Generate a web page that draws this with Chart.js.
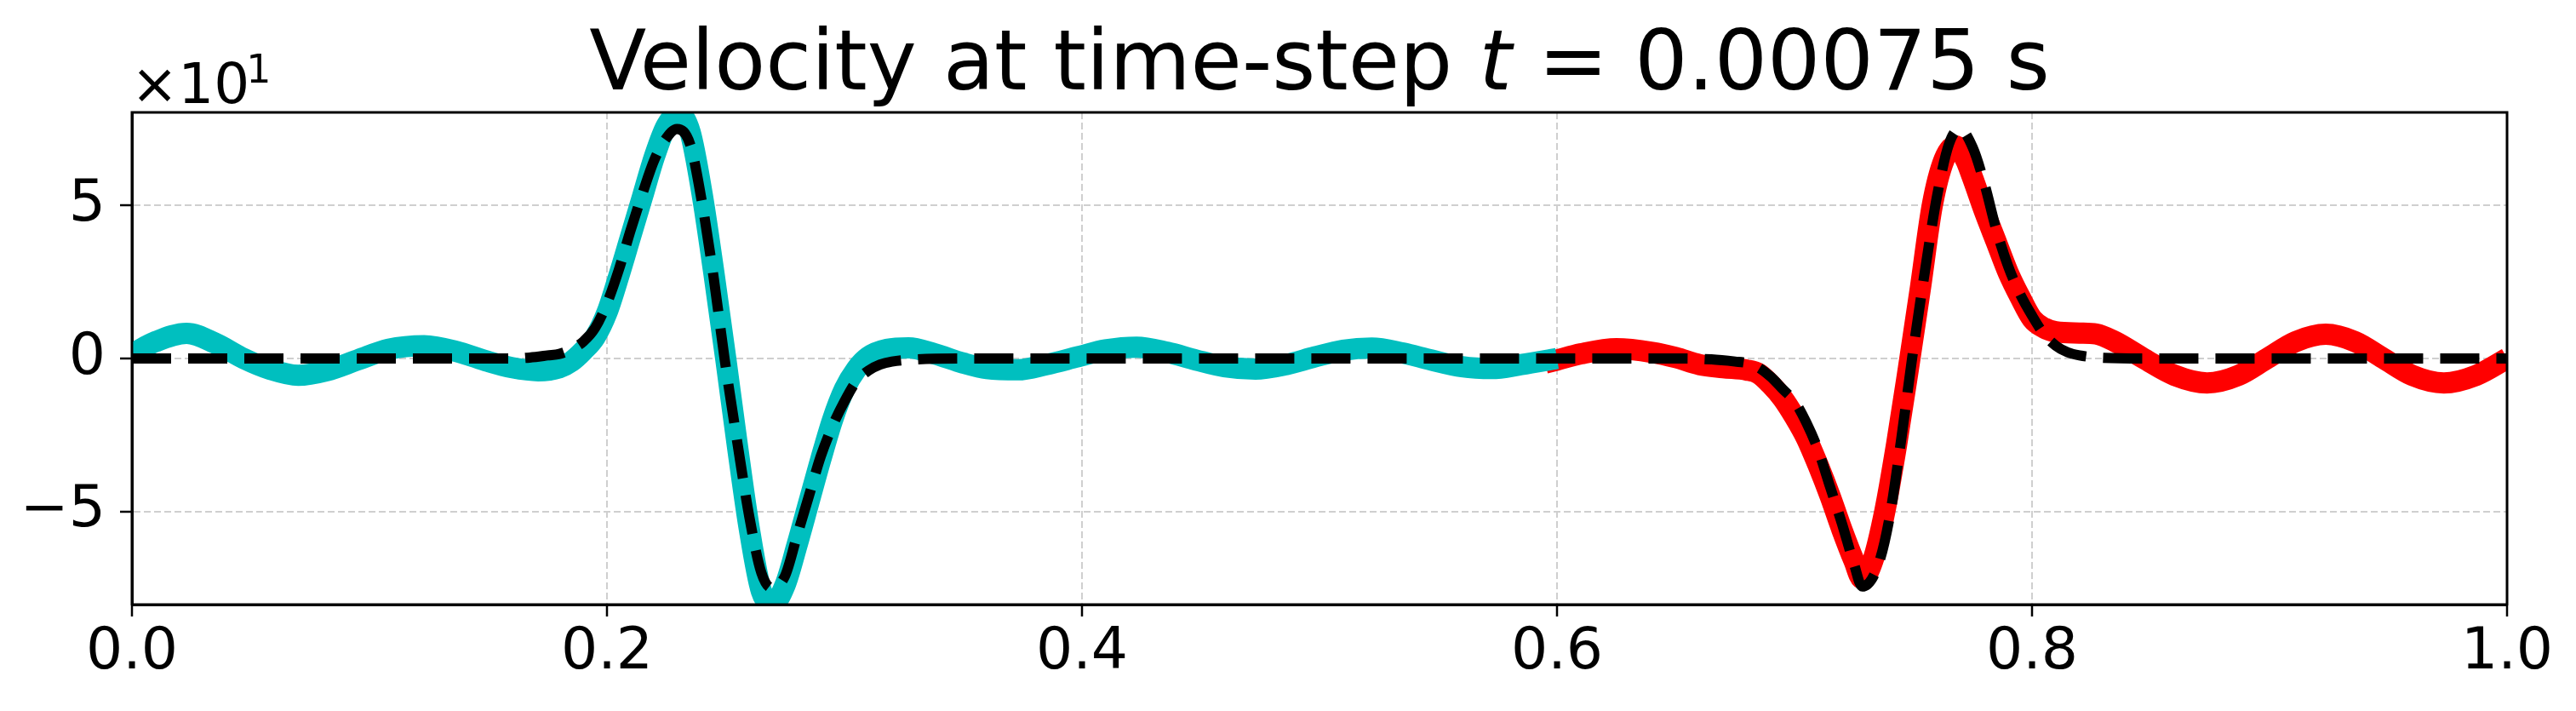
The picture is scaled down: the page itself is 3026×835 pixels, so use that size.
<!DOCTYPE html>
<html>
<head>
<meta charset="utf-8">
<title>Velocity at time-step t = 0.00075 s</title>
<script src="https://cdn.jsdelivr.net/npm/chart.js@4.4.1/dist/chart.umd.min.js"></script>
<style>
    html, body { margin: 0; padding: 0; background: #ffffff; }
    #wrap { position: relative; width: 3026px; height: 835px; }
</style>
</head>
<body>
<div id="wrap"><canvas id="velocityChart"></canvas></div>
<script>
'use strict';

// ── Data (velocity, real units; axis shows them x10^1) ───────────────────────
// numerical solution, left sub-domain (cyan)
var leftX = [0, 0.01, 0.023, 0.035, 0.047, 0.058, 0.07, 0.082, 0.095, 0.108, 0.123, 0.138,
    0.15, 0.16, 0.171, 0.18, 0.185, 0.19, 0.195, 0.2, 0.205, 0.21, 0.215, 0.22, 0.225, 0.23,
    0.235, 0.24, 0.245, 0.25, 0.255, 0.26, 0.265, 0.27, 0.275, 0.28, 0.285, 0.29, 0.295, 0.3,
    0.305, 0.31, 0.318, 0.327, 0.338, 0.35, 0.36, 0.373, 0.385, 0.398, 0.41, 0.423, 0.436,
    0.448, 0.46, 0.473, 0.486, 0.498, 0.51, 0.522, 0.535, 0.547, 0.56, 0.5725, 0.585, 0.6];
var leftY = [1.5, 5.5, 8.2, 5.0, 0, -3.5, -5.5, -4.0, -0.5, 3.0, 4.2, 2.0,
    -1.0, -3.0, -4.0, -3.0, -1.0, 2.5, 7, 15, 27, 40, 53, 66, 76, 80,
    74, 54, 28, 0, -29, -56, -76, -80, -74, -61, -47, -33, -20, -10,
    -3.5, 0.5, 3.0, 3.5, 1.5, -1.5, -3.3, -3.7, -2.0, 0.5, 2.8, 3.7, 2.0,
    -0.5, -2.7, -3.5, -2.0, 0.5, 2.7, 3.4, 1.8, -0.5, -2.7, -3.3, -2.0, 0.0];

// numerical solution, right sub-domain (red)
var rightX = [0.595, 0.6, 0.61, 0.625, 0.64, 0.65, 0.66, 0.67, 0.68, 0.685, 0.69, 0.695,
    0.7, 0.705, 0.71, 0.715, 0.72, 0.725, 0.7285, 0.733, 0.738, 0.743, 0.748, 0.753, 0.758,
    0.763, 0.7677, 0.772, 0.775, 0.78, 0.785, 0.79, 0.795, 0.8, 0.805, 0.81, 0.82, 0.827,
    0.835, 0.847, 0.86, 0.8737, 0.887, 0.899, 0.911, 0.9237, 0.936, 0.948, 0.96, 0.9734,
    0.987, 1.0];
var rightY = [-1.5, -0.5, 1.5, 3.2, 2.0, 0.3, -2.0, -3.0, -3.8, -5, -8.5, -13,
    -19, -26, -35, -45, -56, -66, -72, -66, -50, -28, -3, 23, 50,
    65, 69.5, 65, 59, 48, 38, 28, 20, 13, 10, 8.7, 8.3, 8.0,
    5.5, 0, -5.5, -8.0, -5.5, 0, 5.5, 7.9, 5.5, 0, -5.5, -8.0,
    -5.5, 0];

// exact solution (black dashed)
var exactX = [0, 0.1, 0.16, 0.17, 0.175, 0.18, 0.185, 0.19, 0.195, 0.2, 0.205, 0.21, 0.215,
    0.22, 0.225, 0.2295, 0.235, 0.24, 0.245, 0.2495, 0.255, 0.26, 0.265, 0.2695, 0.275, 0.28,
    0.285, 0.29, 0.295, 0.3, 0.305, 0.31, 0.315, 0.32, 0.33, 0.35, 0.65, 0.665, 0.675, 0.68,
    0.685, 0.69, 0.695, 0.7, 0.705, 0.71, 0.715, 0.72, 0.725, 0.7285, 0.735, 0.74, 0.745,
    0.7495, 0.755, 0.76, 0.765, 0.7695, 0.775, 0.78, 0.785, 0.79, 0.795, 0.8, 0.805, 0.81,
    0.815, 0.82, 0.83, 0.85, 1.0];
var exactY = [0, 0, 0, 0.5, 1.0, 1.5, 3, 5.5, 10, 18, 29, 42, 54,
    65, 72, 75, 70, 51, 26, 0, -28, -52, -70, -75, -71, -58,
    -45, -32, -22, -14, -7.5, -4, -2, -1, -0.3, 0, 0, -0.3, -1.0, -1.5,
    -3, -6, -10, -14, -21, -30, -42, -54, -67, -74.5, -68, -52, -26,
    0, 29, 53, 70, 75, 69, 57, 42, 30, 21, 14, 8, 4.2,
    2, 1, 0.2, 0, 0];

var xTicks = [0, 0.2, 0.4, 0.6, 0.8, 1.0];
var yTicks = [-50, 0, 50];

var TITLE_PRE  = 'Velocity at time-step ';
var TITLE_VAR  = 't';
var TITLE_POST = ' = 0.00075 s';
var OFFSET_BASE = '\u00d710';
var OFFSET_EXP  = '1';

// ── Layout (pixels of the 3026x835 canvas) ───────────────────────────────────
var PLOT_LEFT = 155, PLOT_RIGHT = 2945, PLOT_TOP = 132, PLOT_BOTTOM = 710;
var FONT = "'DejaVu Sans', sans-serif";

function toPoints(xs, ys) {
    return xs.map(function (x, i) { return { x: x, y: ys[i] }; });
}

function minusLabel(v) {
    var n = v / 10;
    if (n === 0) { return '0'; }
    return (n < 0 ? '\u2212' : '') + Math.abs(n);
}

// title with italic t, plus the x10^1 offset label
var mplText = {
    id: 'mplText',
    afterDraw: function (chart) {
        var ctx = chart.ctx;
        var area = chart.chartArea;
        ctx.save();
        ctx.fillStyle = '#000000';
        ctx.textBaseline = 'alphabetic';
        ctx.textAlign = 'left';

        var parts = [
            [TITLE_PRE,  '98px ' + FONT],
            [TITLE_VAR,  'italic 98px ' + FONT],
            [TITLE_POST, '98px ' + FONT]
        ];
        var total = 0;
        parts.forEach(function (p) { ctx.font = p[1]; p.push(ctx.measureText(p[0]).width); total += p[2]; });
        var x = (area.left + area.right) / 2 - total / 2;
        parts.forEach(function (p) { ctx.font = p[1]; ctx.fillText(p[0], x, 105); x += p[2]; });

        ctx.font = '66px ' + FONT;
        ctx.fillText(OFFSET_BASE, area.left - 1, 121);
        var w = ctx.measureText(OFFSET_BASE).width;
        ctx.font = '46px ' + FONT;
        ctx.fillText(OFFSET_EXP, area.left - 1 + w - 4, 97);
        ctx.restore();
    }
};

// full black frame drawn over the lines, like axes spines
var frame = {
    id: 'frame',
    afterDatasetsDraw: function (chart) {
        var ctx = chart.ctx, a = chart.chartArea;
        ctx.save();
        ctx.strokeStyle = '#000000';
        ctx.lineWidth = 3;
        ctx.strokeRect(a.left, a.top, a.right - a.left, a.bottom - a.top);
        ctx.restore();
    }
};

var gridCommon = {
    color: '#cfcfcf',
    lineWidth: 2,
    drawTicks: true,
    tickLength: 14,
    tickColor: '#000000',
    tickWidth: 2.5
};

new Chart(document.getElementById('velocityChart').getContext('2d'), {
    type: 'line',
    data: {
        datasets: [
            {
                label: 'exact',
                data: toPoints(exactX, exactY),
                borderColor: '#000000',
                borderWidth: 12,
                borderDash: [46, 20],
                borderCapStyle: 'butt',
                borderJoinStyle: 'round',
                pointRadius: 0,
                cubicInterpolationMode: 'monotone',
                clip: 0,
                order: 0
            },
            {
                label: 'numerical (left)',
                data: toPoints(leftX, leftY),
                borderColor: '#00bfbf',
                borderWidth: 25,
                borderJoinStyle: 'round',
                pointRadius: 0,
                cubicInterpolationMode: 'monotone',
                clip: 0,
                order: 1
            },
            {
                label: 'numerical (right)',
                data: toPoints(rightX, rightY),
                borderColor: '#ff0000',
                borderWidth: 25,
                borderJoinStyle: 'round',
                pointRadius: 0,
                cubicInterpolationMode: 'monotone',
                clip: 0,
                order: 2
            }
        ]
    },
    options: {
        responsive: true,
        maintainAspectRatio: false,
        devicePixelRatio: 1,
        animation: false,
        layout: { padding: { top: PLOT_TOP, right: 3026 - PLOT_RIGHT, left: 0, bottom: 0 } },
        plugins: {
            legend: { display: false },
            tooltip: { enabled: false },
            title: { display: false }
        },
        scales: {
            x: {
                type: 'linear',
                min: 0,
                max: 1,
                afterBuildTicks: function (s) { s.ticks = xTicks.map(function (v) { return { value: v }; }); },
                afterFit: function (s) { s.height = 835 - PLOT_BOTTOM; },
                grid: gridCommon,
                border: { display: true, color: '#000000', width: 3, dash: [8, 4] },
                ticks: {
                    color: '#000000',
                    font: { family: FONT, size: 68, lineHeight: 1.2 },
                    padding: 3,
                    maxRotation: 0,
                    autoSkip: false,
                    callback: function (v) { return Number(v).toFixed(1); }
                }
            },
            y: {
                type: 'linear',
                min: -80.4,
                max: 80.4,
                afterBuildTicks: function (s) { s.ticks = yTicks.map(function (v) { return { value: v }; }); },
                afterFit: function (s) { s.width = PLOT_LEFT; },
                grid: gridCommon,
                border: { display: true, color: '#000000', width: 3, dash: [8, 4] },
                ticks: {
                    color: '#000000',
                    font: { family: FONT, size: 68, lineHeight: 1.2 },
                    padding: 17,
                    callback: function (v) { return minusLabel(v); }
                }
            }
        }
    },
    plugins: [mplText, frame]
});
</script>
</body>
</html>
